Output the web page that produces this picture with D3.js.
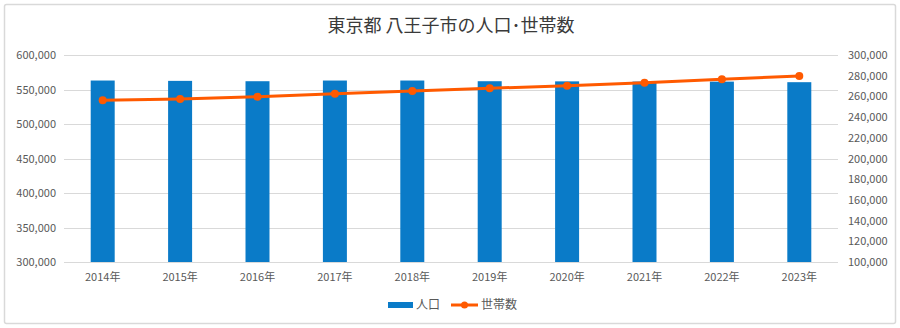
<!DOCTYPE html>
<html><head><meta charset="utf-8">
<script src="https://cdn.jsdelivr.net/npm/d3@7/dist/d3.min.js"></script>
<style>
html,body{margin:0;padding:0;background:#fff;}
svg{display:block;font-family:"Noto Sans CJK JP","Noto Sans",sans-serif;}
</style></head><body>
<svg id="c" width="900" height="328"></svg>
<script>
const years = ["2014年","2015年","2016年","2017年","2018年","2019年","2020年","2021年","2022年","2023年"];
const population = [563000,562500,562000,563000,563000,562000,561800,561500,561400,560600];
const households = [256200,257500,259700,262600,265200,267800,270400,273300,276500,279700];
const leftTicks = [300000,350000,400000,450000,500000,550000,600000];
const rightTicks = [100000,120000,140000,160000,180000,200000,220000,240000,260000,280000,300000];
const title = "東京都 八王子市の人口･世帯数";
const seriesNames = ["人口","世帯数"];

const svg = d3.select("#c");
const blue = "#0a7bc8", orange = "#ff5a00", grid = "#d9d9d9", txt = "#595959";
svg.append("rect").attr("x",4.5).attr("y",4.5).attr("width",891).attr("height",319)
  .attr("fill","#fff").attr("stroke","#d9d9d9").attr("stroke-width",1.5).attr("rx",2);

const L = 64, R = 838, T = 55, B = 262;
const x = d3.scaleBand().domain(years).range([L,R]).paddingInner(0.69).paddingOuter(0.345);
const xc = d3.scaleBand().domain(years).range([L,R]);
const yL = d3.scaleLinear().domain([300000,600000]).range([B,T]);
const yR = d3.scaleLinear().domain([100000,300000]).range([B,T]);

svg.append("text").attr("x",451).attr("y",32).attr("text-anchor","middle")
  .attr("font-size",18).attr("fill","#3a3a3a").text(title);

// gridlines
svg.append("g").selectAll("line").data(leftTicks).join("line")
  .attr("x1",L).attr("x2",R).attr("y1",d=>Math.round(yL(d))+0.5).attr("y2",d=>Math.round(yL(d))+0.5)
  .attr("stroke",grid).attr("stroke-width",1);

// left axis
const fmt = d3.format(",");
const gl = svg.append("g").attr("transform",`translate(${L-8},0)`)
  .call(d3.axisLeft(yL).tickValues(leftTicks).tickFormat(fmt).tickSize(0).tickPadding(0));
gl.select(".domain").remove();
gl.selectAll("text").attr("font-size",11).attr("fill",txt).attr("font-family","Noto Sans CJK JP");

const gr = svg.append("g").attr("transform",`translate(${R+10},0)`)
  .call(d3.axisRight(yR).tickValues(rightTicks).tickFormat(fmt).tickSize(0).tickPadding(0));
gr.select(".domain").remove();
gr.selectAll("text").attr("font-size",11).attr("fill",txt).attr("font-family","Noto Sans CJK JP");

const gx = svg.append("g").attr("transform",`translate(0,${B+11})`)
  .call(d3.axisBottom(xc).tickSize(0).tickPadding(0));
gx.select(".domain").remove();
gx.selectAll("text").attr("font-size",11).attr("fill",txt).attr("dy","0.71em").attr("font-family","Noto Sans CJK JP");

// bars
svg.append("g").selectAll("rect").data(years).join("rect")
  .attr("x",d=>x(d)).attr("width",x.bandwidth())
  .attr("y",(d,i)=>yL(population[i])).attr("height",(d,i)=>B-yL(population[i]))
  .attr("fill",blue);

// line
const cx = d=>xc(d)+xc.bandwidth()/2;
svg.append("path").datum(years)
  .attr("d",d3.line().x(d=>cx(d)).y((d,i)=>yR(households[i])))
  .attr("fill","none").attr("stroke",orange).attr("stroke-width",3).attr("stroke-linecap","round");
svg.append("g").selectAll("circle").data(years).join("circle")
  .attr("cx",d=>cx(d)).attr("cy",(d,i)=>yR(households[i])).attr("r",4).attr("fill",orange);

// legend
const lg = svg.append("g");
lg.append("rect").attr("x",388).attr("y",302).attr("width",25).attr("height",6).attr("fill",blue);
lg.append("text").attr("x",416).attr("y",309).attr("font-size",12).attr("fill",txt).text(seriesNames[0]);
lg.append("line").attr("x1",451).attr("x2",478).attr("y1",305).attr("y2",305).attr("stroke",orange).attr("stroke-width",3);
lg.append("circle").attr("cx",464.5).attr("cy",305).attr("r",3.5).attr("fill",orange);
lg.append("text").attr("x",481).attr("y",309).attr("font-size",12).attr("fill",txt).text(seriesNames[1]);
</script>
</body></html>
